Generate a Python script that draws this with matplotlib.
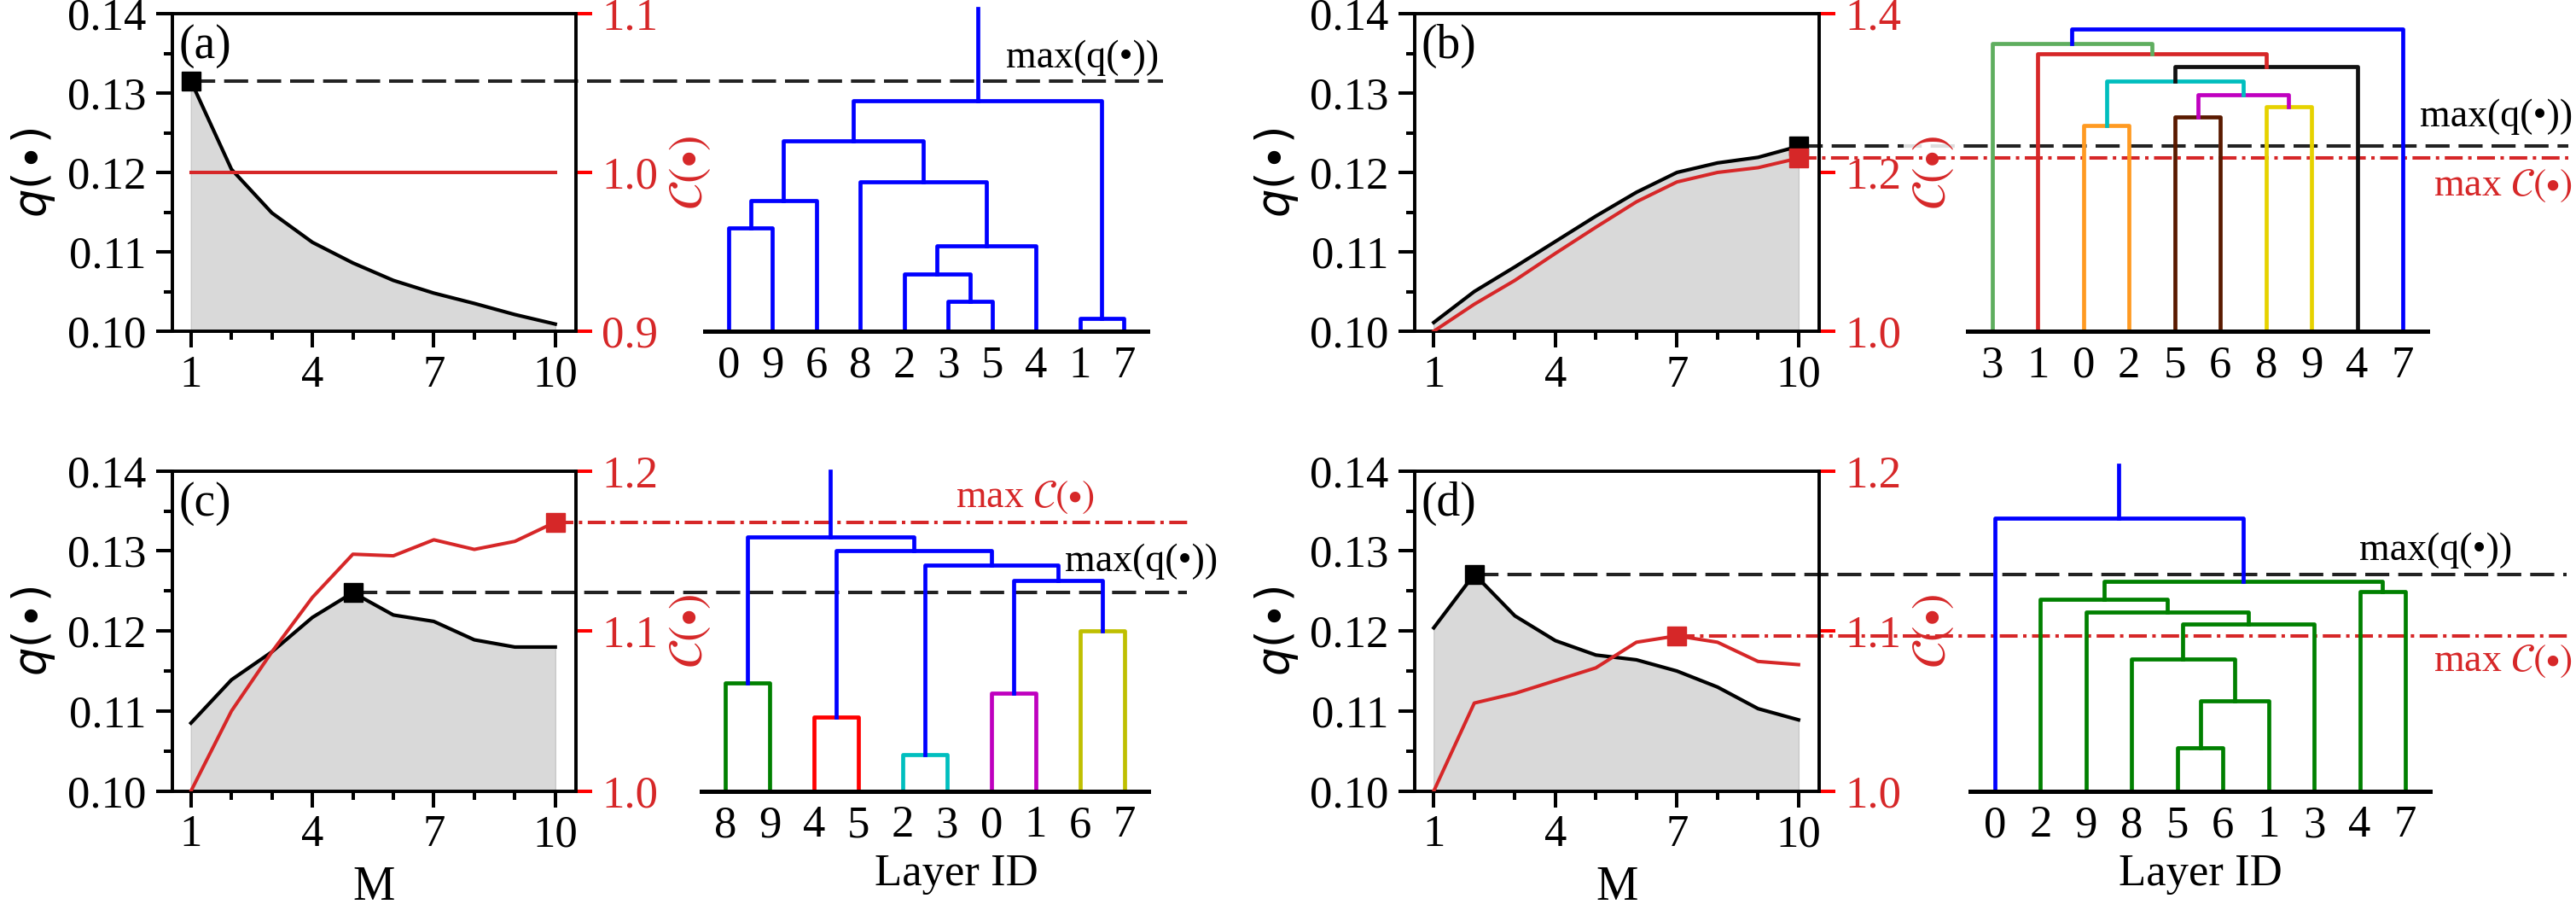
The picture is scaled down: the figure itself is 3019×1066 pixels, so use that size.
import numpy as np
import matplotlib
matplotlib.use('Agg')
import matplotlib.pyplot as plt
from matplotlib.ticker import FixedLocator, MultipleLocator, FormatStrFormatter

W, H = 3019, 1066
plt.rcParams['font.family'] = ['Liberation Serif', 'DejaVu Serif']

RED = '#d62728'
TICKRED = '#ff0000'

# ---- data ----
M = [1, 2, 3, 4, 5, 6, 7, 8, 9, 10]

q_a = [0.1315, 0.1204, 0.1149, 0.1112, 0.1086, 0.1064, 0.1048, 0.1035, 0.1021, 0.1009]
C_a = [1.0, 1.0, 1.0, 1.0, 1.0, 1.0, 1.0, 1.0, 1.0, 1.0]
q_b = [0.1011, 0.1050, 0.1081, 0.1113, 0.1145, 0.1175, 0.1200, 0.1212, 0.1219, 0.1233]
C_b = [1.000, 1.034, 1.064, 1.098, 1.131, 1.163, 1.188, 1.200, 1.206, 1.218]
q_c = [0.1085, 0.1139, 0.1174, 0.1217, 0.1248, 0.1220, 0.1212, 0.1189, 0.1180, 0.1180]
C_c = [1.000, 1.050, 1.087, 1.121, 1.148, 1.147, 1.157, 1.151, 1.156, 1.168]
q_d = [0.1204, 0.1271, 0.1219, 0.1188, 0.1170, 0.1164, 0.1150, 0.1130, 0.1103, 0.1089]
C_d = [1.000, 1.055, 1.061, 1.069, 1.077, 1.093, 1.097, 1.093, 1.081, 1.079]

C_ticks_a = [0.9, 1.0, 1.1]
C_ticks_b = [1.0, 1.2, 1.4]
C_ticks_c = [1.0, 1.1, 1.2]
C_ticks_d = [1.0, 1.1, 1.2]

# dendrograms: leaf order, merges (node 10+k is merge k), link colours
leaves_a = [0, 9, 6, 8, 2, 3, 5, 4, 1, 7]
links_a = [(0, 9, 0.325), (10, 6, 0.41), (3, 5, 0.094), (2, 12, 0.18), (13, 4, 0.27),
           (8, 14, 0.47), (11, 15, 0.60), (1, 7, 0.04), (16, 17, 0.725)]
colors_a = ['#0000ff'] * 9

leaves_b = [3, 1, 0, 2, 5, 6, 8, 9, 4, 7]
links_b = [(0, 2, 0.649), (5, 6, 0.674), (8, 9, 0.707), (11, 12, 0.745), (10, 13, 0.788),
           (14, 4, 0.832), (1, 15, 0.874), (3, 16, 0.907), (17, 7, 0.951)]
colors_b = ['#ff9a22', '#5a1a00', '#e6d200', '#c000c0', '#00bebe',
            '#111111', '#d62728', '#5fae5f', '#0000ff']

leaves_c = [8, 9, 4, 5, 2, 3, 0, 1, 6, 7]
links_c = [(8, 9, 0.339), (4, 5, 0.232), (2, 3, 0.115), (0, 1, 0.305), (6, 7, 0.501),
           (13, 14, 0.657), (12, 15, 0.705), (11, 16, 0.752), (10, 17, 0.794)]
colors_c = ['#008000', '#ff0000', '#00bfbf', '#bf00bf', '#bfbf00',
            '#0000ff', '#0000ff', '#0000ff', '#0000ff']

leaves_d = [0, 2, 9, 8, 5, 6, 1, 3, 4, 7]
links_d = [(5, 6, 0.135), (10, 1, 0.282), (8, 11, 0.412), (12, 3, 0.522), (9, 13, 0.56),
           (2, 14, 0.598), (4, 7, 0.622), (15, 16, 0.656), (0, 17, 0.852)]
colors_d = ['#008000'] * 8 + ['#0000ff']

fig = plt.figure(figsize=(W / 100, H / 100), dpi=100)


def px_axes(x0, y0, x1, y1):
    return fig.add_axes([x0 / W, 1 - y1 / H, (x1 - x0) / W, (y1 - y0) / H])


def data_x(ax, px):
    return ax.transData.inverted().transform((px, 0))[0]


def fig_text(px, py, s, **kw):
    fig.text(px / W, 1 - py / H, s, va='center', fontsize=33, **kw)


def curve_panel(box, q, C, cticks, tag, qend, cend, cover_label, xlabel):
    ax = px_axes(*box)
    ax.set_xlim(0.53, 10.5)
    ax.set_ylim(0.10, 0.14)
    ax.fill_between(M, 0.10, q, facecolor='#d9d9d9', edgecolor='#c8c8c8', lw=1, zorder=1)
    ax.plot(M, q, color='k', lw=3.0, zorder=3)
    i = int(np.argmax(q))
    ax.plot(M[i], q[i], 's', color='k', ms=16, zorder=4)
    ax.plot([M[i], data_x(ax, qend)], [q[i], q[i]], color='#222222', lw=2.9,
            ls=(0, (7, 2.6)), clip_on=False, zorder=2)

    ax.xaxis.set_major_locator(FixedLocator([1, 4, 7, 10]))
    ax.xaxis.set_minor_locator(MultipleLocator(1))
    ax.yaxis.set_major_locator(MultipleLocator(0.01))
    ax.yaxis.set_minor_locator(MultipleLocator(0.005))
    ax.yaxis.set_major_formatter(FormatStrFormatter('%.2f'))
    ax.tick_params(which='both', direction='out', width=2.9, labelsize=38, top=False, right=False)
    ax.tick_params(which='major', length=14)
    ax.tick_params(which='minor', length=7)
    ax.tick_params(axis='y', pad=8)
    ax.tick_params(axis='x', pad=6)
    for s in ax.spines.values():
        s.set_linewidth(2.6)
    ax.set_ylabel(r'$q(\bullet)$', fontsize=38, math_fontfamily='dejavusans', labelpad=8)
    if xlabel:
        ax.set_xlabel('M', fontsize=40, labelpad=8)
    ax.text(0.016, 0.968, tag, transform=ax.transAxes, ha='left', va='top', fontsize=40)

    ax2 = ax.twinx()
    ax2.set_ylim(cticks[0], cticks[-1])
    ax2.plot(M, C, color=RED, lw=2.9, zorder=3)
    if cend is not None:
        j = int(np.argmax(C))
        ax2.plot(M[j], C[j], 's', color=RED, ms=16, zorder=4)
        ax2.plot([M[j], data_x(ax2, cend)], [C[j], C[j]], color=RED, lw=2.9,
                 ls=(0, (5.2, 1.6, 1, 1.6)), clip_on=False, zorder=2)
    ax2.set_yticks(cticks)
    ax2.yaxis.set_major_formatter(FormatStrFormatter('%.1f'))
    ax2.tick_params(axis='y', direction='out', color=TICKRED, labelcolor=RED, width=2.9,
                    length=14, labelsize=38, pad=8)
    for s in ax2.spines.values():
        s.set_linewidth(2.6)
    ax2.set_ylabel(r'$\mathcal{C}(\bullet)$', color=RED, fontsize=40,
                   math_fontfamily='stix', labelpad=8)
    if cover_label:
        ax2.yaxis.label.set_bbox(dict(facecolor='white', edgecolor='none', alpha=0.85, pad=6))
    return ax


def dendro_panel(box, leaves, links, colors, stem_top, xlabel, label_x=0.5):
    ax = px_axes(*box)
    ax.patch.set_visible(False)
    pos = {leaf: float(i) for i, leaf in enumerate(leaves)}
    hgt = {leaf: 0.0 for leaf in leaves}
    for k, (a, b, h) in enumerate(links):
        ax.plot([pos[a], pos[a], pos[b], pos[b]], [hgt[a], h, h, hgt[b]],
                color=colors[k], lw=3.4, clip_on=False)
        pos[10 + k] = (pos[a] + pos[b]) / 2
        hgt[10 + k] = h
    root = 10 + len(links) - 1
    if stem_top is not None:
        ax.plot([pos[root], pos[root]], [hgt[root], stem_top], color=colors[-1],
                lw=3.4, clip_on=False)
    ax.set_xlim(-0.54, 9.54)
    ax.set_ylim(0, 1)
    ax.set_xticks(range(len(leaves)))
    ax.set_xticklabels([str(v) for v in leaves])
    ax.tick_params(axis='x', length=0, labelsize=38, pad=12)
    ax.set_yticks([])
    for s in ['top', 'left', 'right']:
        ax.spines[s].set_visible(False)
    ax.spines['bottom'].set_linewidth(3.6)
    if xlabel:
        ax.set_xlabel('Layer ID', fontsize=38, labelpad=6, x=label_x)
    return ax


TOP = (16, 388)
BOT = (551.7, 926.7)

# (a)
curve_panel((201.5, TOP[0], 674.5, TOP[1]), q_a, C_a, C_ticks_a, '(a)', 1363, None, False, False)
dendro_panel((826, TOP[0], 1345, TOP[1]), leaves_a, links_a, colors_a, 1.015, False)
fig_text(1358, 68, 'max(q(\u2022))', ha='right')

# (b)
curve_panel((1658, TOP[0], 2131.6, TOP[1]), q_b, C_b, C_ticks_b, '(b)', 3010, 3010, True, False)
dendro_panel((2306, TOP[0], 2845, TOP[1]), leaves_b, links_b, colors_b, None, False)
fig_text(3015, 137, 'max(q(\u2022))', ha='right')
fig_text(3015, 218, r'max $\mathcal{C}(\bullet)$', ha='right', color=RED, math_fontfamily='stix')

# (c)
curve_panel((201.5, BOT[0], 674.5, BOT[1]), q_c, C_c, C_ticks_c, '(c)', 1391, 1397, False, True)
dendro_panel((822, BOT[0], 1345.6, BOT[1]), leaves_c, links_c, colors_c, 1.0, True, 0.57)
fig_text(1202, 583, r'max $\mathcal{C}(\bullet)$', ha='center', color=RED, math_fontfamily='stix')
fig_text(1427, 658, 'max(q(\u2022))', ha='right')

# (d)
curve_panel((1658, BOT[0], 2131.6, BOT[1]), q_d, C_d, C_ticks_d, '(d)', 3008, 3010, True, True)
dendro_panel((2309, BOT[0], 2848, BOT[1]), leaves_d, links_d, colors_d, 1.018, True)
fig_text(2944, 645, 'max(q(\u2022))', ha='right')
fig_text(3015, 775, r'max $\mathcal{C}(\bullet)$', ha='right', color=RED, math_fontfamily='stix')

fig.savefig('out.png', dpi=100)
